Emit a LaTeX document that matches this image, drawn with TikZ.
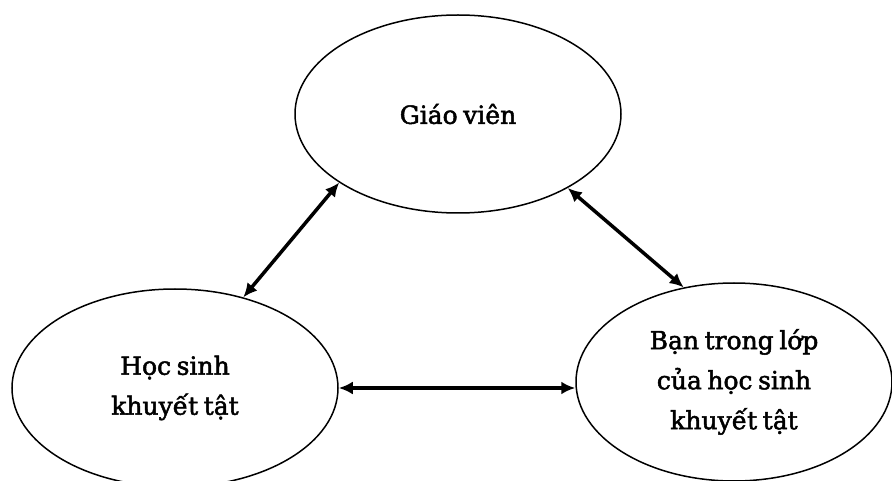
\documentclass[tikz,border=0pt]{standalone}
\usepackage{fontspec}
\setmainfont{DejaVu Serif}[FakeBold=2,WordSpace=0.7]
\usetikzlibrary{arrows.meta,shapes.geometric}
\begin{document}
\begin{tikzpicture}[x=1pt,y=-1pt,
  bubble/.style={ellipse,draw=black,line width=1.5pt,inner sep=0pt,
    minimum width=326pt,minimum height=198pt,align=center,
    font=\fontsize{25}{40}\selectfont},
  link/.style={line width=3.5pt,{Latex[length=14pt,width=13pt]}-{Latex[length=14pt,width=13pt]}}]
\useasboundingbox (0,0) rectangle (892,481);
\node[bubble] (gv) at (458,114) {Giáo viên};
\node[bubble] (hs) at (175,388) {Học sinh\\khuyết tật};
\node[bubble,minimum width=316pt] (bt) at (734,382) {Bạn trong lớp\\của học sinh\\khuyết tật};
\draw[link] (gv.210.6) -- (hs.53.2);
\draw[link] (gv.326.6) -- (bt.118.2);
\draw[link] (hs.east) -- (hs.east -| bt.west);
\end{tikzpicture}
\end{document}
